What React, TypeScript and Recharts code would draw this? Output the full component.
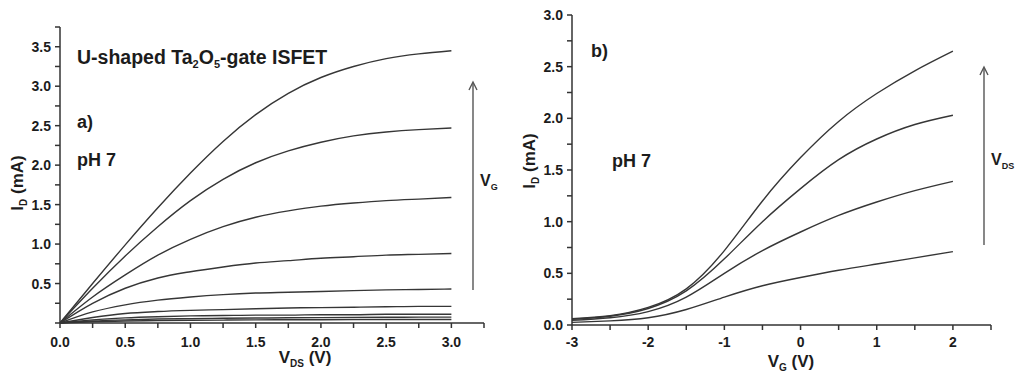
import React from 'react';
import { LineChart, Line, XAxis, YAxis } from 'recharts';

// panel a) output curves, I_D (mA) vs V_DS (V), one curve per gate voltage
const vdsValues = [0, 0.25, 0.5, 0.75, 1.0, 1.25, 1.5, 1.75, 2.0, 2.25, 2.5, 2.75, 3.0];
const outCurve1 = [0, 0.5, 0.99, 1.46, 1.9, 2.3, 2.64, 2.91, 3.11, 3.25, 3.35, 3.41, 3.45];
const outCurve2 = [0, 0.44, 0.85, 1.22, 1.55, 1.82, 2.03, 2.18, 2.29, 2.37, 2.42, 2.45, 2.47];
const outCurve3 = [0, 0.33, 0.61, 0.86, 1.06, 1.22, 1.34, 1.42, 1.48, 1.52, 1.55, 1.57, 1.59];
const outCurve4 = [0, 0.25, 0.44, 0.57, 0.65, 0.71, 0.76, 0.79, 0.82, 0.84, 0.86, 0.87, 0.88];
const outCurve5 = [0, 0.14, 0.23, 0.29, 0.33, 0.36, 0.38, 0.39, 0.4, 0.41, 0.42, 0.425, 0.43];
const outCurve6 = [0, 0.07, 0.12, 0.145, 0.16, 0.17, 0.18, 0.19, 0.195, 0.2, 0.205, 0.21, 0.21];
const outCurve7 = [0, 0.04, 0.065, 0.08, 0.09, 0.095, 0.1, 0.1, 0.105, 0.105, 0.11, 0.11, 0.11];
const outCurve8 = [0, 0.025, 0.04, 0.05, 0.055, 0.06, 0.063, 0.066, 0.068, 0.07, 0.072, 0.074, 0.075];
const outCurve9 = [0, 0.015, 0.025, 0.03, 0.034, 0.037, 0.04, 0.041, 0.042, 0.043, 0.044, 0.045, 0.045];
const outCurves = [outCurve1, outCurve2, outCurve3, outCurve4, outCurve5, outCurve6, outCurve7, outCurve8, outCurve9];

// panel b) transfer curves, I_D (mA) vs V_G (V), one curve per drain voltage
const vgValues = [-3, -2.5, -2, -1.5, -1, -0.5, 0, 0.5, 1, 1.5, 2];
const trCurve1 = [0.06, 0.09, 0.17, 0.35, 0.72, 1.2, 1.62, 1.97, 2.24, 2.46, 2.65];
const trCurve2 = [0.055, 0.085, 0.16, 0.33, 0.64, 1.0, 1.32, 1.6, 1.8, 1.94, 2.03];
const trCurve3 = [0.045, 0.07, 0.13, 0.27, 0.5, 0.72, 0.9, 1.06, 1.19, 1.3, 1.39];
const trCurve4 = [0.025, 0.04, 0.07, 0.15, 0.27, 0.38, 0.46, 0.53, 0.59, 0.65, 0.71];
const trCurves = [trCurve1, trCurve2, trCurve3, trCurve4];

// ticks (majors get labels, minors are unlabeled marks)
const aXTicks = [0, 0.25, 0.5, 0.75, 1, 1.25, 1.5, 1.75, 2, 2.25, 2.5, 2.75, 3, 3.25];
const aYTicks = [0, 0.25, 0.5, 0.75, 1, 1.25, 1.5, 1.75, 2, 2.25, 2.5, 2.75, 3, 3.25, 3.5, 3.75];
const bXTicks = [-3, -2.5, -2, -1.5, -1, -0.5, 0, 0.5, 1, 1.5, 2, 2.5];
const bYTicks = [0, 0.25, 0.5, 0.75, 1, 1.25, 1.5, 1.75, 2, 2.25, 2.5, 2.75, 3];

const outData = vdsValues.map((x, i) => {
  const row: any = { x };
  outCurves.forEach((c, k) => (row['s' + k] = c[i]));
  return row;
});
const trData = vgValues.map((x, i) => {
  const row: any = { x };
  trCurves.forEach((c, k) => (row['s' + k] = c[i]));
  return row;
});

const INK = '#1c1c1c';
const AXIS = '#333';
const CURVE = '#363636';
const FONT = 'Arial, "Liberation Sans", Helvetica, sans-serif';
const TICK_LEN = 5;

const isMult = (v: number, step: number) => Math.abs(v / step - Math.round(v / step)) < 1e-6;

const xTick = (step: number, fmt: (v: number) => string, dyLabel: number, lastValue: number) => (props: any) => {
  const v = props.payload.value;
  if (!isMult(v, step) || v === lastValue) return <g />;
  return (
    <text x={props.x} y={Number(props.y) + dyLabel} textAnchor="middle" fontFamily={FONT} fontWeight="bold" fontSize={14} fill={INK}>
      {fmt(v)}
    </text>
  );
};

const yTick = (showZero: boolean) => (props: any) => {
  const v = props.payload.value;
  if (!isMult(v, 0.5) || (!showZero && v === 0)) return <g />;
  return (
    <text x={Number(props.x) - 4} y={Number(props.y) + 5} textAnchor="end" fontFamily={FONT} fontWeight="bold" fontSize={14} fill={INK}>
      {v.toFixed(1)}
    </text>
  );
};

const axisStyle = { stroke: AXIS, strokeWidth: 1.5 };

export default function App() {
  return (
    <div style={{ position: 'absolute', left: 0, top: 0, width: 1024, height: 378, background: '#fff', overflow: 'hidden' }}>
      <div style={{ position: 'absolute', left: 0, top: 0 }}>
        <LineChart width={512} height={378} data={outData} margin={{ top: 27, right: 28, left: 0, bottom: 0 }}>
          <XAxis
            dataKey="x"
            type="number"
            domain={[0, 3.25]}
            ticks={aXTicks}
            interval={0}
            height={55}
            tickSize={TICK_LEN}
            tickMargin={0}
            axisLine={axisStyle}
            tickLine={axisStyle}
            tick={xTick(0.5, (v) => v.toFixed(1), 24 - TICK_LEN, 3.25)}
          />
          <YAxis
            type="number"
            domain={[0, 3.75]}
            ticks={aYTicks}
            interval={0}
            width={60}
            tickSize={TICK_LEN}
            tickMargin={0}
            axisLine={axisStyle}
            tickLine={axisStyle}
            tick={yTick(false)}
          />
          {outCurves.map((_, k) => (
            <Line
              key={k}
              dataKey={'s' + k}
              type={k < 3 ? 'natural' : 'monotone'}
              stroke={CURVE}
              strokeWidth={1.4}
              dot={false}
              isAnimationActive={false}
            />
          ))}
        </LineChart>
      </div>
      <div style={{ position: 'absolute', left: 512, top: 0 }}>
        <LineChart width={512} height={378} data={trData} margin={{ top: 15, right: 33, left: 0, bottom: 0 }}>
          <XAxis
            dataKey="x"
            type="number"
            domain={[-3, 2.5]}
            ticks={bXTicks}
            interval={0}
            height={53}
            tickSize={TICK_LEN}
            tickMargin={0}
            axisLine={axisStyle}
            tickLine={axisStyle}
            tick={xTick(1, (v) => String(v), 22 - TICK_LEN, 2.5)}
          />
          <YAxis
            type="number"
            domain={[0, 3]}
            ticks={bYTicks}
            interval={0}
            width={60}
            tickSize={TICK_LEN}
            tickMargin={0}
            axisLine={axisStyle}
            tickLine={axisStyle}
            tick={yTick(true)}
          />
          {trCurves.map((_, k) => (
            <Line key={k} dataKey={'s' + k} type="natural" stroke={CURVE} strokeWidth={1.4} dot={false} isAnimationActive={false} />
          ))}
        </LineChart>
      </div>

      <svg width={1024} height={378} style={{ position: 'absolute', left: 0, top: 0, pointerEvents: 'none' }}>
        <g fontFamily={FONT} fontWeight="bold" fill={INK}>
          <text x={77} y={64} fontSize={19.5}>
            U-shaped Ta<tspan fontSize={11} dy={4}>2</tspan>
            <tspan dy={-4}>O</tspan>
            <tspan fontSize={11} dy={4}>5</tspan>
            <tspan dy={-4}>-gate ISFET</tspan>
          </text>
          <text x={77} y={128} fontSize={18}>a)</text>
          <text x={77} y={166} fontSize={18}>pH 7</text>
          <text x={591} y={57} fontSize={18}>b)</text>
          <text x={612} y={167} fontSize={18}>pH 7</text>

          <text x={480} y={186} fontSize={16}>
            V<tspan fontSize={9} dy={4}>G</tspan>
          </text>
          <text x={991} y={165} fontSize={16}>
            V<tspan fontSize={9} dy={4}>DS</tspan>
          </text>

          <text x={305} y={363} fontSize={17} textAnchor="middle">
            V<tspan fontSize={10} dy={4}>DS</tspan>
            <tspan dy={-4}> (V)</tspan>
          </text>
          <text x={791} y={367} fontSize={17} textAnchor="middle">
            V<tspan fontSize={10} dy={4}>G</tspan>
            <tspan dy={-4}> (V)</tspan>
          </text>
          <text x={23} y={183} fontSize={17} textAnchor="middle" transform="rotate(-90 23 183)">
            I<tspan fontSize={10} dy={4}>D</tspan>
            <tspan dy={-4}> (mA)</tspan>
          </text>
          <text x={535} y={161} fontSize={17} textAnchor="middle" transform="rotate(-90 535 161)">
            I<tspan fontSize={10} dy={4}>D</tspan>
            <tspan dy={-4}> (mA)</tspan>
          </text>
        </g>
        <g stroke="#555" strokeWidth={1.4} fill="none">
          <line x1={473} y1={290} x2={473} y2={83} />
          <polyline points="469,90 473,82 477,90" />
          <line x1={984} y1={245} x2={984} y2={68} />
          <polyline points="980,75 984,67 988,75" />
        </g>
      </svg>
    </div>
  );
}
